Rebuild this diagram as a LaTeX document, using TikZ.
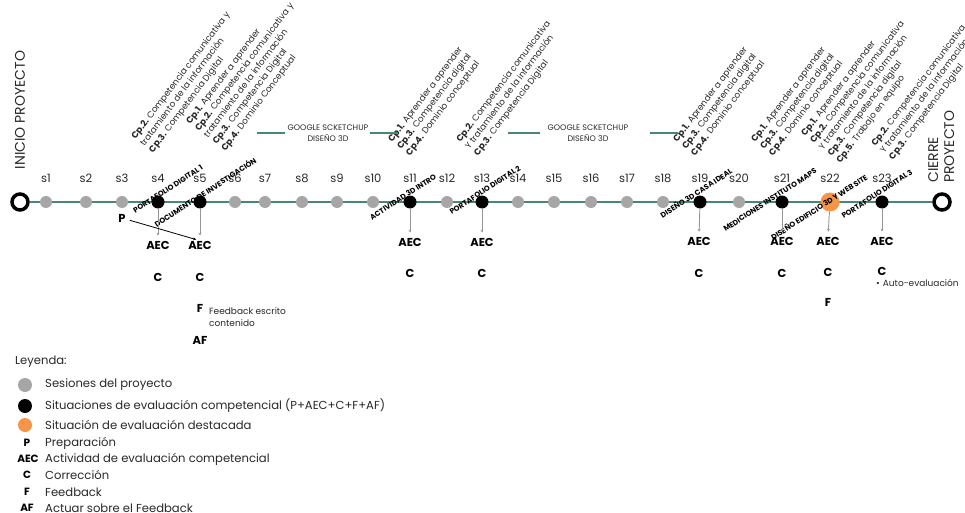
\documentclass[tikz,border=0pt]{standalone}
\usepackage{fontspec}
\setmainfont{Poppins}
\usetikzlibrary{arrows.meta}
\definecolor{dotgray}{RGB}{166,166,166}
\definecolor{hlorange}{RGB}{247,148,72}
\definecolor{tealline}{RGB}{72,136,112}
\definecolor{arrowgray}{RGB}{150,150,150}
\definecolor{txtdark}{RGB}{40,40,40}
\begin{document}
\begin{tikzpicture}[x=1pt,y=-1pt,
  dot/.style={circle, inner sep=0pt, draw=none},
  endc/.style={circle, draw=black, line width=3.5pt, fill=white, minimum size=16pt, inner sep=0pt},
  tl/.style={draw=tealline, line width=1.4pt},
  slab/.style={font=\fontsize{11.5}{13}\selectfont, inner sep=0pt, text=txtdark},
  code/.style={font=\bfseries\fontsize{11.5}{13}\selectfont, inner sep=0pt},
  cplab/.style={font=\fontsize{8.8}{11}\selectfont, rotate=53, anchor=north west, align=left, inner sep=0pt, text=txtdark},
  actlab/.style={font=\bfseries\fontsize{7.4}{8}\selectfont, rotate=33, inner sep=0pt},
  glab/.style={font=\fontsize{8}{10.5}\selectfont, align=center, inner sep=0pt, text=txtdark},
  gline/.style={draw=tealline, line width=1.1pt},
  down/.style={draw=arrowgray, line width=0.9pt, -{Stealth[length=3pt,width=3pt]}, shorten >=5pt},
  pline/.style={draw=black, line width=0.8pt, -{Stealth[length=3pt,width=3pt]}, shorten <=4pt, shorten >=4pt},
  note/.style={font=\fontsize{9}{11.5}\selectfont, inner sep=0pt, align=left, anchor=west, text=txtdark},
  lgt/.style={font=\fontsize{11.6}{13}\selectfont, inner sep=0pt, anchor=west, text=txtdark},
  lcode/.style={font=\bfseries\fontsize{10.5}{12}\selectfont, inner sep=0pt},
  big/.style={font=\fontsize{14}{16}\selectfont, rotate=90, inner sep=0pt, text=txtdark}
]
\useasboundingbox (0,0) rectangle (965,513);

% ends and timeline
\node[endc] (st) at (20,202) {};
\node[endc] (en) at (942,202) {};
\draw[tl] (st) -- (en);

\node[big] (ini) at (20,110) {INICIO PROYECTO};
\node[big, align=left, anchor=north west] (cie) at (928,183) {CIERRE\\PROYECTO};

% sessions
\foreach \i/\x/\c/\sz in {1/46/dotgray/12,2/86/dotgray/12,3/122/dotgray/12,4/158/black/13,5/200/black/13,
  6/235/dotgray/12,7/265/dotgray/12,8/302/dotgray/12,9/337/dotgray/12,10/373/dotgray/12,11/410/black/13,
  12/447/dotgray/12,13/482/black/13,14/518/dotgray/12,15/554/dotgray/12,16/591/dotgray/12,17/627/dotgray/12,
  18/663/dotgray/12,19/700/black/13,20/739/dotgray/12,21/782/black/13,22/830/hlorange/19,23/882/black/13}{
  \node[dot, fill=\c, minimum size=\sz pt] (d\i) at (\x,202) {};
  \node[slab] (l\i) at (\x,178) {s\i};
}

% activity labels
\node[actlab] (a4) at (168,189) {PORTAFOLIO DIGITAL 1};
\node[actlab] (a5) at (205,192) {DOCUMENTO DE INVESTIGACIÓN};
\node[actlab] (a11) at (403,197) {ACTIVIDAD 3D INTRO};
\node[actlab] (a13) at (485,190) {PORTAFOLIO DIGITAL 2};
\node[actlab] (a19) at (696,193) {DISEÑO 3D CASA IDEAL};
\node[actlab] (a21) at (770,200) {MEDICIONES INSTITUTO MAPS};
\node[actlab] (a22) at (819,207) {DISEÑO EDIFICIO 3D Y WEB SITE};
\node[actlab] (a23) at (877,194) {PORTAFOLIO DIGITAL 3};

% competence blocks
\node[cplab] (cpA) at (130,136) {\textbf{Cp.2.} Competencia comunicativa y\\tratamiento de la información\\\textbf{Cp.3.} Competencia Digital};
\node[cplab] (cpB) at (185,121) {\textbf{Cp.1.} Aprender a aprender\\\textbf{Cp.2.} Competencia comunicativa y\\tratamiento de la información\\\textbf{Cp.3.} Competencia Digital\\\textbf{Cp.4.} Dominio Conceptual};
\node[cplab] (cpC) at (387,139) {\textbf{Cp.1.} Aprender a aprender\\\textbf{Cp.3.} Competencia digital\\\textbf{Cp.4.} Dominio conceptual};
\node[cplab] (cpD) at (455,139) {\textbf{Cp.2.} Competencia comunicativa\\Y tratamiento de la información\\\textbf{Cp.3.} Competencia Digital};
\node[cplab] (cpE) at (672,139) {\textbf{Cp.1.} Aprender a aprender\\\textbf{Cp.3.} Competencia digital\\\textbf{Cp.4.} Dominio conceptual};
\node[cplab] (cpF) at (750,139) {\textbf{Cp.1.} Aprender a aprender\\\textbf{Cp.3.} Competencia digital\\\textbf{Cp.4.} Dominio conceptual};
\node[cplab] (cpG) at (800,133) {\textbf{Cp.1.} Aprender a aprender\\\textbf{Cp.2.} Competencia comunicativa\\Y tratamiento de la información\\\textbf{Cp.3.} Competencia digital\\\textbf{Cp.5.} Trabajo en equipo};
\node[cplab] (cpH) at (870,143) {\textbf{Cp.2.} Competencia comunicativa\\Y tratamiento de la información\\\textbf{Cp.3.} Competencia Digital};

% google sketchup labels
\node[glab] (g1) at (328,133) {GOOGLE SCKETCHUP\\DISEÑO 3D};
\node[glab] (g2) at (588,133) {GOOGLE SCKETCHUP\\DISEÑO 3D};
\coordinate (g1a) at (257,133); \coordinate (g1b) at (285,133);
\coordinate (g1c) at (370,133); \coordinate (g1d) at (397,133);
\coordinate (g2a) at (508,133); \coordinate (g2b) at (540,133);
\coordinate (g2c) at (650,133); \coordinate (g2d) at (678,133);
\draw[gline] (g1a) -- (g1b);
\draw[gline] (g1c) -- (g1d);
\draw[gline] (g2a) -- (g2b);
\draw[gline] (g2c) -- (g2d);

% evaluation items
\node[code] (P) at (122,218) {P};
\node[code] (aec4) at (158,245) {AEC};
\node[code] (c4) at (158,277) {C};
\node[code] (aec5) at (200,245) {AEC};
\node[code] (c5) at (200,277) {C};
\node[code] (f5) at (200,308) {F};
\node[code] (af5) at (200,340) {AF};
\node[note] (fb5) at (209,317) {Feedback escrito\\contenido};
\node[code] (aec11) at (410,242) {AEC};
\node[code] (c11) at (410,273) {C};
\node[code] (aec13) at (482,242) {AEC};
\node[code] (c13) at (482,273) {C};
\node[code] (aec19) at (699,241) {AEC};
\node[code] (c19) at (699,273) {C};
\node[code] (aec21) at (782,241) {AEC};
\node[code] (c21) at (782,273) {C};
\node[code] (aec22) at (828,241) {AEC};
\node[code] (c22) at (828,272) {C};
\node[code] (f22) at (828,302) {F};
\node[code] (aec23) at (882,241) {AEC};
\node[code] (c23) at (882,271) {C};
\node[note] (auto) at (876,283) {•\hspace{3pt}Auto-evaluación};

\draw[down] (d4) -- (aec4.north);
\draw[down] (d5) -- (aec5.north);
\draw[down] (d11) -- (aec11.north);
\draw[down] (d13) -- (aec13.north);
\draw[down] (d19) -- (aec19.north);
\draw[down] (d21) -- (aec21.north);
\draw[down] (d22) -- (aec22.north);
\draw[down] (d23) -- (aec23.north);
\draw[pline] (P) -- (aec5.north);

% legend
\node[lgt] (leg) at (15,362) {Leyenda:};
\node[dot, fill=dotgray, minimum size=14pt] (lg1) at (25,385) {};
\node[lgt] (lt1) at (45,385) {Sesiones del proyecto};
\node[dot, fill=black, minimum size=14pt] (lg2) at (25,406) {};
\node[lgt] (lt2) at (45,406) {Situaciones de evaluación competencial (P+AEC+C+F+AF)};
\node[dot, fill=hlorange, minimum size=14pt] (lg3) at (25,425) {};
\node[lgt] (lt3) at (45,425) {Situación de evaluación destacada};
\node[lcode] (lc1) at (27,443) {P};
\node[lgt] (lt4) at (45,443) {Preparación};
\node[lcode] (lc2) at (28,459) {AEC};
\node[lgt] (lt5) at (45,459) {Actividad de evaluación competencial};
\node[lcode] (lc3) at (27,475) {C};
\node[lgt] (lt6) at (45,475) {Corrección};
\node[lcode] (lc4) at (27,492) {F};
\node[lgt] (lt7) at (45,492) {Feedback};
\node[lcode] (lc5) at (27,508) {AF};
\node[lgt] (lt8) at (45,508) {Actuar sobre el Feedback};
\end{tikzpicture}
\end{document}
